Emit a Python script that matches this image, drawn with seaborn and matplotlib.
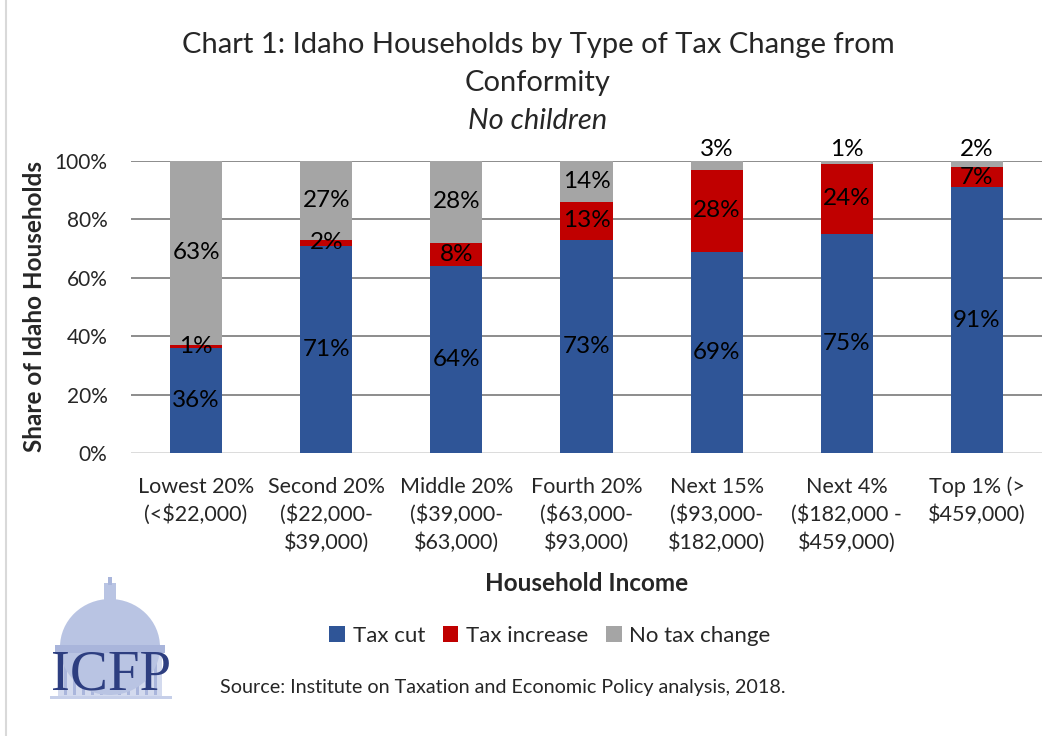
import numpy as np
import pandas as pd
import matplotlib
matplotlib.use("Agg")
import matplotlib.pyplot as plt
import seaborn as sns
from matplotlib.patches import Ellipse, Rectangle, Patch
from matplotlib.lines import Line2D

# ---------------- data ----------------
categories = ["Lowest 20%\n(<$22,000)",
              "Second 20%\n($22,000-\n$39,000)",
              "Middle 20%\n($39,000-\n$63,000)",
              "Fourth 20%\n($63,000-\n$93,000)",
              "Next 15%\n($93,000-\n$182,000)",
              "Next 4%\n($182,000 -\n$459,000)",
              "Top 1% (>\n$459,000)"]
tax_cut = [36, 71, 64, 73, 69, 75, 91]
tax_increase = [1, 2, 8, 13, 28, 24, 7]
no_change = [63, 27, 28, 14, 3, 1, 2]
series_names = ["Tax cut", "Tax increase", "No tax change"]
y_ticks = [0, 20, 40, 60, 80, 100]

colors = {"Tax cut": "#2F5597", "Tax increase": "#C00000", "No tax change": "#A5A5A5"}

# ---------------- style ----------------
sns.set_theme(style="white")
plt.rcParams['font.family'] = ['Lato', 'DejaVu Sans']
plt.rcParams['text.parse_math'] = False

fig = plt.figure(figsize=(10.63, 7.36), dpi=100)
W, H = 1063, 736
ax = fig.add_axes([131 / W, 1 - 453 / H, (1042 - 131) / W, (453 - 161) / H])

cut = np.array(tax_cut)
inc = np.array(tax_increase)
non = np.array(no_change)
top_total = cut + inc + non
mid_total = cut + inc

for vals, name in [(top_total, "No tax change"), (mid_total, "Tax increase"), (cut, "Tax cut")]:
    df = pd.DataFrame({"cat": categories, "val": vals})
    sns.barplot(data=df, x="cat", y="val", color=colors[name], saturation=1,
                width=0.4, errorbar=None, ax=ax, zorder=3, linewidth=0)

ax.set_ylim(0, 100)
ax.set_yticks(y_ticks)
ax.set_yticklabels([f"{t}%" for t in y_ticks], fontsize=15)
ax.tick_params(axis='y', length=0, pad=17)
ax.tick_params(axis='x', length=0, pad=17, labelsize=15.5)
for lbl in ax.get_xticklabels():
    lbl.set_linespacing(1.45)
for s in ax.spines.values():
    s.set_visible(False)
for t in y_ticks[1:]:
    ax.axhline(t, color="#6e6e6e", lw=1.1, zorder=1)
ax.axhline(0, color="#d9d9d9", lw=1.3, zorder=1)

ax.set_xlabel("Household Income", fontsize=17.5, fontweight="bold", labelpad=14)
ax.set_ylabel("Share of Idaho Households", fontsize=17.5, fontweight="bold", labelpad=6)

# data labels
for i in range(len(categories)):
    segs = [(0, cut[i]), (cut[i], inc[i]), (cut[i] + inc[i], non[i])]
    for k, (b, v) in enumerate(segs):
        if k == 2 and v < 5:
            y = 104.0
        else:
            y = b + v / 2
        ax.text(i, y, f"{v}%", ha="center", va="center", fontsize=17.5,
                color="black", zorder=5, clip_on=False)

# title
fig.text(538 / W, 1 - 45 / H, "Chart 1: Idaho Households by Type of Tax Change from",
         ha="center", va="center", fontsize=21)
fig.text(538 / W, 1 - 83 / H, "Conformity", ha="center", va="center", fontsize=21)
fig.text(538 / W, 1 - 121 / H, "No children", ha="center", va="center", fontsize=21,
         style="italic")

# legend
handles = [Patch(facecolor=colors[n], edgecolor="none") for n in series_names]
fig.legend(handles, series_names, loc="center", bbox_to_anchor=(550 / W, 1 - 636 / H),
           ncol=3, frameon=False, fontsize=16, handlelength=0.7, handleheight=0.7,
           handletextpad=0.35, columnspacing=0.8)

# source
fig.text(220 / W, 1 - 688 / H,
         "Source: Institute on Taxation and Economic Policy analysis, 2018.",
         ha="left", va="center", fontsize=14.2)

# border line on left
fig.add_artist(Line2D([6 / W, 6 / W], [0, 1], color="#d9d9d9", lw=1.5,
                      transform=fig.transFigure))

# logo
lax = fig.add_axes([40 / W, 1 - 705 / H, 140 / W, 135 / H])
lax.set_xlim(0, 140)
lax.set_ylim(0, 135)
lax.axis("off")
dome_c = "#b9c4e3"
lax.add_patch(Rectangle((18, 8), 104, 50, facecolor="#d3daee", edgecolor="none"))
for xx in range(24, 120, 9):
    lax.add_patch(Rectangle((xx, 10), 3, 42, facecolor="#aab6dc", edgecolor="none"))
lax.add_patch(Ellipse((70, 58), 100, 96, facecolor=dome_c, edgecolor="none"))
lax.add_patch(Rectangle((15, 52), 110, 8, facecolor="#a9b5db", edgecolor="none"))
lax.add_patch(Rectangle((64, 104), 12, 18, facecolor=dome_c, edgecolor="none"))
lax.add_patch(Rectangle((68, 120), 4, 8, facecolor="#a9b5db", edgecolor="none"))
lax.add_patch(Rectangle((10, 6), 122, 3, facecolor="#c6cfe9", edgecolor="none"))
lax.text(71, 30, "ICFP", ha="center", va="center", fontsize=41,
         family=["Liberation Serif", "DejaVu Serif"], color="#2d3e80")

fig.savefig("out.png", dpi=100)
